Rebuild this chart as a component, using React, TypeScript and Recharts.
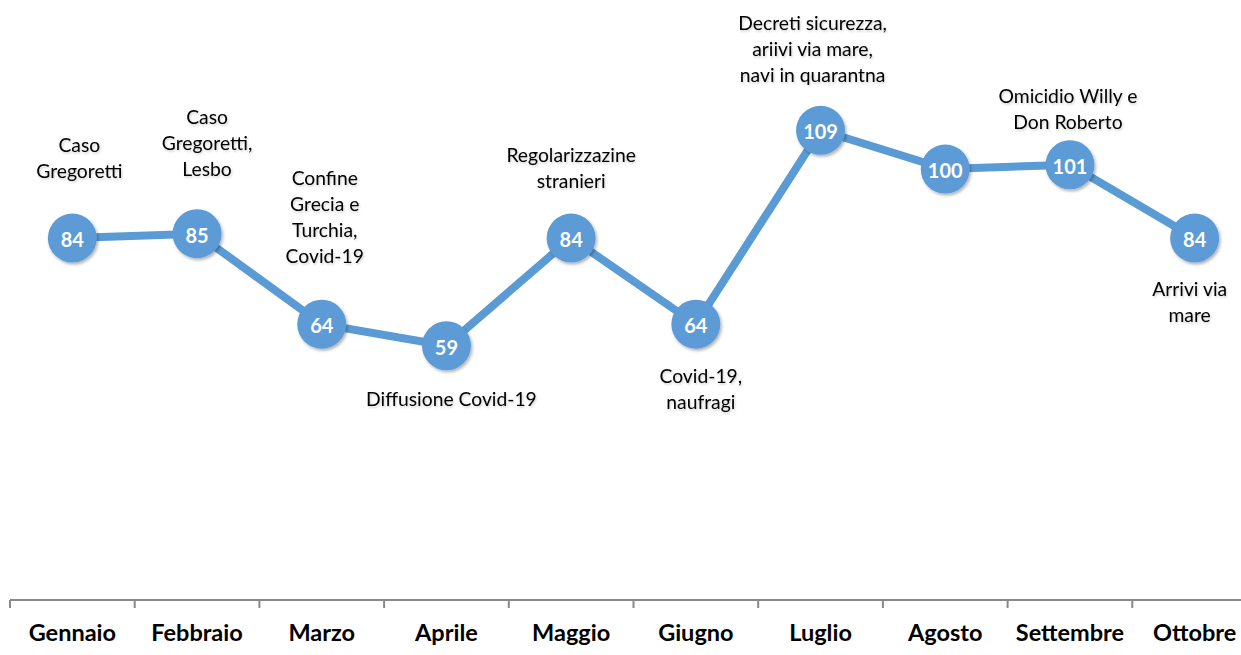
import React from 'react';
import { LineChart, Line, XAxis, YAxis } from 'recharts';

// months on the x axis
const MONTHS = ['Gennaio', 'Febbraio', 'Marzo', 'Aprile', 'Maggio', 'Giugno', 'Luglio', 'Agosto', 'Settembre', 'Ottobre'];
// index value per month
const VALUES = [84, 85, 64, 59, 84, 64, 109, 100, 101, 84];
// event notes shown next to each point (empty = no note)
const NOTES: string[][] = [
    ['Caso', 'Gregoretti'],
    ['Caso', 'Gregoretti,', 'Lesbo'],
    ['Confine', 'Grecia e', 'Turchia,', 'Covid-19'],
    ['Diffusione Covid-19'],
    ['Regolarizzazine', 'stranieri'],
    ['Covid-19,', 'naufragi'],
    ['Decreti sicurezza,', 'ariivi via mare,', 'navi in quarantna'],
    [],
    ['Omicidio Willy e', 'Don Roberto'],
    ['Arrivi via', 'mare'],
];

// note placement relative to the marker (layout only)
const NOTE_LAYOUT = [
    { side: 'above', dx: 7, dy: -68 },
    { side: 'above', dx: 10, dy: -65 },
    { side: 'above', dx: 3, dy: -69 },
    { side: 'below', dx: 5, dy: 53 },
    { side: 'above', dx: 0, dy: -58 },
    { side: 'below', dx: 5, dy: 51 },
    { side: 'above', dx: -8, dy: -56 },
    { side: 'above', dx: 0, dy: 0 },
    { side: 'above', dx: -2, dy: -43 },
    { side: 'below', dx: -5, dy: 50 },
];

const BLUE = '#5B9BD5';
const FONT = 'Lato, "Open Sans", sans-serif';
const CHART_W = 1260;
const CHART_H = 655;
const MARGIN = { top: 1, right: 3, left: 10, bottom: 0 };
const BAND = (CHART_W - MARGIN.left - MARGIN.right) / MONTHS.length;
const LINE_H = 26;

const data = MONTHS.map((m, i) => ({ x: i + 0.5, month: m, value: VALUES[i] }));
const tickValues = MONTHS.map((_, i) => i);

function MonthTick(props: any) {
    const { x, y, payload } = props;
    const label = MONTHS[payload.value];
    if (!label) return null;
    return (
        <text x={x + BAND / 2} y={y + 22} textAnchor="middle" dominantBaseline="central"
            fontFamily={FONT} fontWeight={700} fontSize={23.5} fill="#000">
            {label}
        </text>
    );
}

function Node(props: any) {
    const { cx, cy, index, payload } = props;
    const lines = NOTES[index] || [];
    const lay = NOTE_LAYOUT[index];
    const startY = lay.side === 'above' ? cy + lay.dy - (lines.length - 1) * LINE_H : cy + lay.dy;
    return (
        <g key={`node-${index}`}>
            <circle cx={cx} cy={cy} r={24.5} fill={BLUE} filter="url(#dotShadow)" />
            <text x={cx} y={cy + 1} textAnchor="middle" dominantBaseline="central"
                fontFamily={FONT} fontWeight={700} fontSize={20} fill="#fff">
                {payload.value}
            </text>
            {lines.map((t, j) => (
                <text key={j} x={cx + lay.dx} y={startY + j * LINE_H} textAnchor="middle"
                    dominantBaseline="central" fontFamily={FONT} fontSize={19.3} fill="#000"
                    filter="url(#textShadow)">
                    {t}
                </text>
            ))}
        </g>
    );
}

export default function App() {
    return (
        <div style={{ position: 'absolute', left: 0, top: 0, width: 1241, height: 655, overflow: 'hidden', background: '#fff' }}>
            <svg width={0} height={0} style={{ position: 'absolute' }}>
                <defs>
                    <filter id="dotShadow" x="-50%" y="-50%" width="200%" height="200%">
                        <feDropShadow dx={1.5} dy={2} stdDeviation={1.5} floodColor="#000" floodOpacity={0.3} />
                    </filter>
                    <filter id="textShadow" x="-10%" y="-50%" width="120%" height="200%">
                        <feDropShadow dx={1} dy={1.5} stdDeviation={1.2} floodColor="#000" floodOpacity={0.2} />
                    </filter>
                </defs>
            </svg>
            <LineChart width={CHART_W} height={CHART_H} data={data} margin={MARGIN}>
                <XAxis
                    type="number"
                    dataKey="x"
                    domain={[0, MONTHS.length]}
                    ticks={tickValues}
                    interval={0}
                    height={55}
                    tickSize={8}
                    axisLine={{ stroke: '#898989', strokeWidth: 2 }}
                    tickLine={{ stroke: '#898989', strokeWidth: 2 }}
                    tick={<MonthTick />}
                />
                <YAxis hide domain={[0, 139]} />
                <Line
                    dataKey="value"
                    stroke={BLUE}
                    strokeWidth={8}
                    dot={(p: any) => <Node key={`n-${p.index}`} {...p} />}
                    activeDot={false}
                    isAnimationActive={false}
                />
            </LineChart>
        </div>
    );
}
